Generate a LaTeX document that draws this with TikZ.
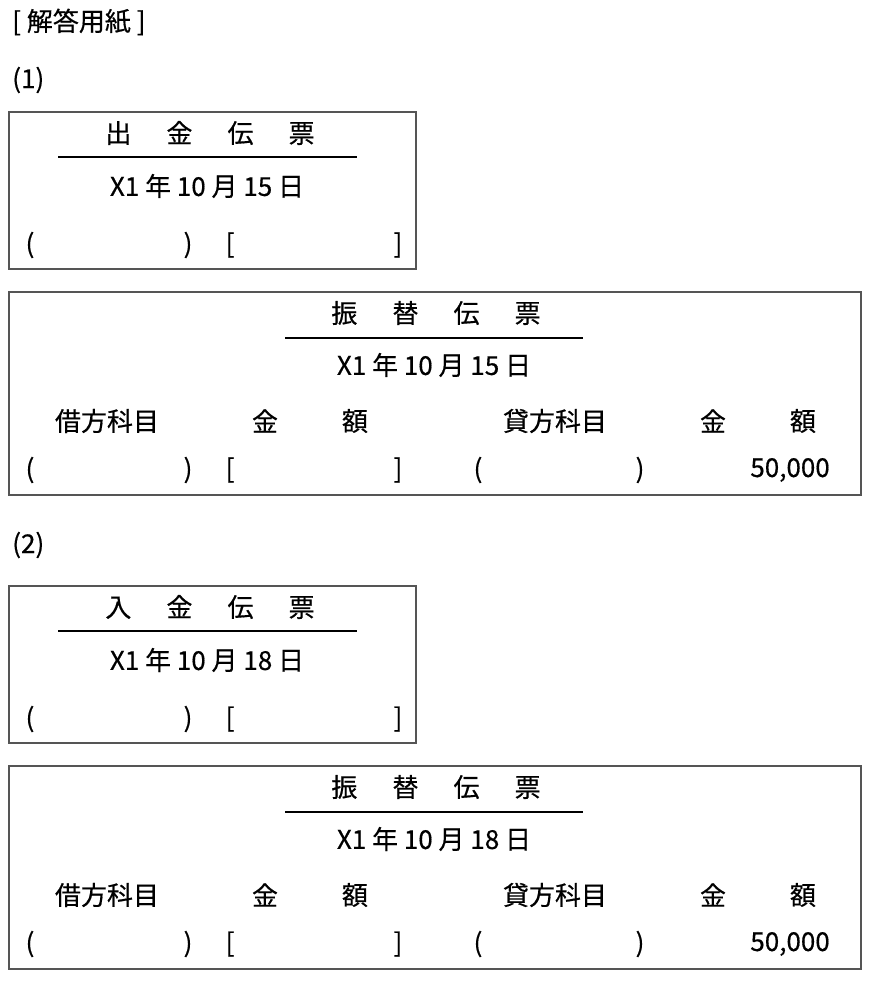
\documentclass[tikz,border=0pt]{standalone}
\usepackage{fontspec}
\setmainfont{Noto Sans CJK JP}[AutoFakeBold=0.5]
\usepackage{xcolor}
\definecolor{boxgray}{HTML}{555555}
\tikzset{
  slip/.style={draw=boxgray, line width=1.1pt},
  txt/.style={inner sep=0pt, font=\fontsize{19.5}{22}\selectfont\bfseries},
}
\newcommand{\wgap}{\hspace{1.35em}}
% small slip: name prefix, top y, title, day
\newcommand{\smallslip}[4]{
  \draw[slip] (9,#2) rectangle (416,#2+157);
  \node[txt] (#1title) at (210,#2+21) {#3};
  \draw[thick] (58,#2+45) -- (357,#2+45);
  \node[txt] (#1date) at (207,#2+74) {X1 年 10 月 #4 日};
  \node[txt] (#1pa) at (30,#2+133) {(};
  \node[txt] (#1pb) at (188,#2+133) {)};
  \node[txt] (#1ba) at (230,#2+133) {[};
  \node[txt] (#1bb) at (398,#2+133) {]};
}
% transfer slip
\newcommand{\bigslip}[3]{
  \draw[slip] (9,#2) rectangle (861,#2+203);
  \node[txt] (#1title) at (436,#2+21) {振\wgap 替\wgap 伝\wgap 票};
  \draw[thick] (285,#2+46) -- (583,#2+46);
  \node[txt] (#1date) at (434,#2+73) {X1 年 10 月 #3 日};
  \node[txt] (#1dr) at (107,#2+129) {借方科目};
  \node[txt] (#1kin) at (265,#2+129) {金};
  \node[txt] (#1gaku) at (355,#2+129) {額};
  \node[txt] (#1cr) at (555,#2+129) {貸方科目};
  \node[txt] (#1kinb) at (713,#2+129) {金};
  \node[txt] (#1gakub) at (803,#2+129) {額};
  \node[txt] (#1pa) at (30,#2+178) {(};
  \node[txt] (#1pb) at (188,#2+178) {)};
  \node[txt] (#1ba) at (230,#2+178) {[};
  \node[txt] (#1bb) at (398,#2+178) {]};
  \node[txt] (#1pc) at (478,#2+178) {(};
  \node[txt] (#1pd) at (640,#2+178) {)};
  \node[txt, anchor=east] (#1amt) at (830,#2+178) {50,000};
}
\begin{document}
\begin{tikzpicture}[x=0.75pt, y=-0.75pt]
  \useasboundingbox (0,0) rectangle (872,984);

  \node[txt, anchor=west] (heading) at (12,22) {[ 解答用紙 ]};

  % (1)
  \node[txt, anchor=west] (qone) at (12,80) {(1)};
  \smallslip{out}{112}{出\wgap 金\wgap 伝\wgap 票}{15}
  \bigslip{trA}{292}{15}

  % (2)
  \node[txt, anchor=west] (qtwo) at (12,545) {(2)};
  \smallslip{in}{586}{入\wgap 金\wgap 伝\wgap 票}{18}
  \bigslip{trB}{766}{18}
\end{tikzpicture}
\end{document}
